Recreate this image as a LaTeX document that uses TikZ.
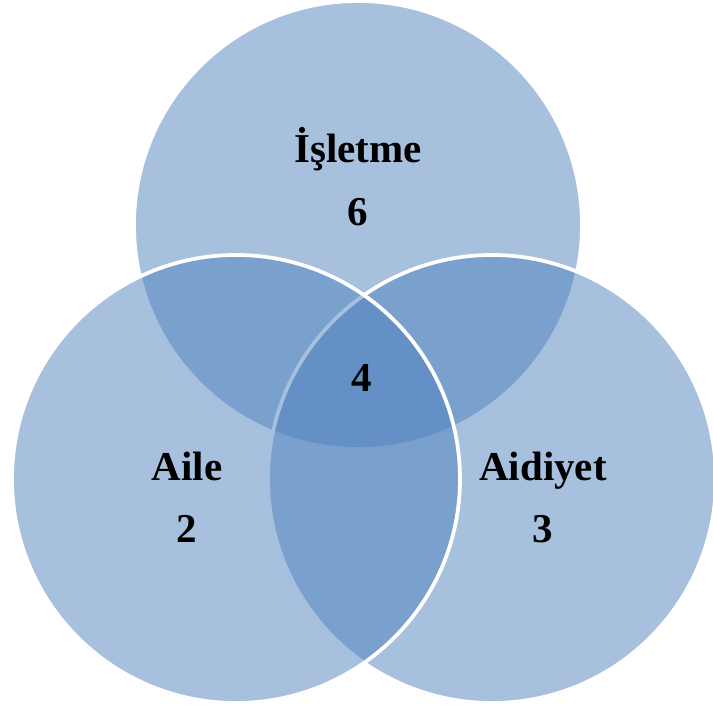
\documentclass[tikz,border=0pt]{standalone}
\usepackage{fontspec}
\setmainfont{Liberation Serif}
\definecolor{accent}{HTML}{4F81BD}
\begin{document}
\begin{tikzpicture}[x=1pt,y=1pt,
  venn/.style={circle,draw=white,line width=3.75pt,fill=accent,fill opacity=0.5,draw opacity=1,minimum size=448pt,inner sep=0pt,outer sep=0pt},
  lbl/.style={font=\fontsize{41}{49}\selectfont\bfseries,anchor=base,inner sep=0pt,text=black}]
\clip (0,0) rectangle (713,706);
\useasboundingbox (0,0) rectangle (713,706);
\node[venn] (ctop) at (358,481) {};
\node[venn] (cright) at (492,227) {};
\node[venn] (cleft) at (236,227) {};
\node[lbl] (tname) at (358,543) {İşletme};
\node[lbl] (tnum) at (358,480) {6};
\node[lbl] (mid) at (362,314) {4};
\node[lbl] (lname) at (187,225) {Aile};
\node[lbl] (lnum) at (187,163) {2};
\node[lbl] (rname) at (543,225) {Aidiyet};
\node[lbl] (rnum) at (543,163) {3};
\end{tikzpicture}
\end{document}
